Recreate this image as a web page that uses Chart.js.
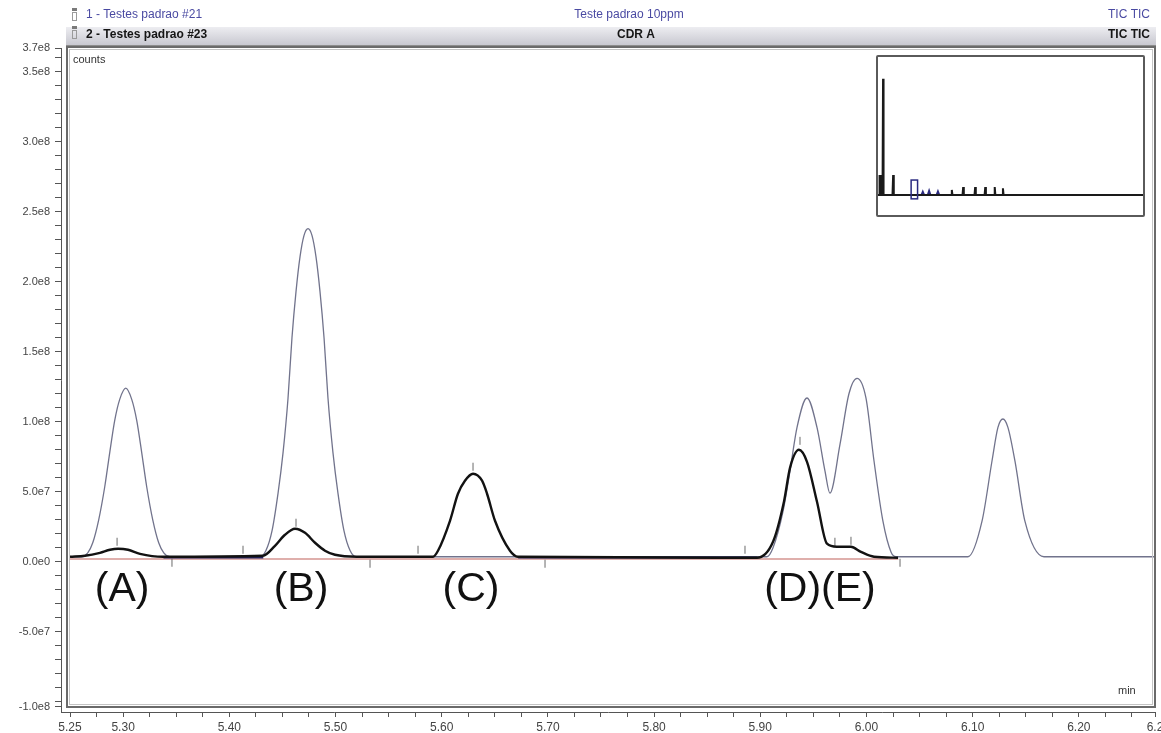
<!DOCTYPE html>
<html>
<head>
<meta charset="utf-8">
<script src="https://cdn.jsdelivr.net/npm/chart.js@4.4.0/dist/chart.umd.min.js"></script>
<style>
  html, body { margin: 0; padding: 0; background: #fff; }
  #wrap { position: relative; width: 1161px; height: 733px; }
  #insetBox { position: absolute; left: 876px; top: 55px; width: 265px; height: 158px;
              border: 2px solid #5a5a5a; border-radius: 2px; background: #fff; }
</style>
</head>
<body>
<div id="wrap">
  <canvas id="chroma" width="1161" height="733"></canvas>
  <div id="insetBox"><canvas id="overview" width="265" height="158"></canvas></div>
</div>
<script>
// chromatogram data (retention time in min, counts)
var greyTimes = [5.250, 5.2610, 5.2667, 5.2714, 5.2770, 5.2827, 5.2874, 5.2921, 5.2968, 5.3025,
  5.3081, 5.3128, 5.3175, 5.3222, 5.3279, 5.3335, 5.3383, 5.3439,
  5.4289, 5.4345, 5.4402, 5.4459, 5.4506, 5.4553, 5.4590, 5.4628, 5.4666, 5.4703, 5.4741,
  5.4779, 5.4816, 5.4854, 5.4892, 5.4929, 5.4976, 5.5023, 5.5080, 5.5137, 5.5193,
  5.9063, 5.9120, 5.9214, 5.9280, 5.9346, 5.9440, 5.9534, 5.9609, 5.9656, 5.9751, 5.9835, 5.9911,
  5.9995, 6.0071, 6.0155, 6.0231, 6.0278,
  6.0956, 6.1088, 6.1182, 6.1238, 6.1285, 6.1332, 6.1398, 6.1492, 6.1671, 6.2717];
var greyCounts = [3.6e6, 3.6e6, 6.4e6, 1.36e7, 3.0e7, 5.36e7, 7.8e7, 1.01e8, 1.16e8, 1.24e8,
  1.16e8, 1.01e8, 7.8e7, 5.36e7, 3.0e7, 1.36e7, 6.4e6, 3.6e6,
  3.6e6, 8.0e6, 2.2e7, 4.9e7, 7.8e7, 1.17e8, 1.6e8, 1.93e8, 2.18e8, 2.33e8, 2.38e8,
  2.33e8, 2.18e8, 1.93e8, 1.6e8, 1.17e8, 7.8e7, 4.9e7, 2.2e7, 8.0e6, 3.6e6,
  3.6e6, 1.0e7, 3.6e7, 6.5e7, 9.6e7, 1.17e8, 9.6e7, 6.5e7, 4.9e7, 8.4e7, 1.2e8, 1.31e8,
  1.17e8, 7.2e7, 2.9e7, 7.0e6, 3.6e6,
  3.6e6, 2.9e7, 7.2e7, 9.6e7, 1.02e8, 9.6e7, 7.2e7, 2.9e7, 3.6e6, 3.6e6];

var blackTimes = [5.250, 5.2641, 5.2782, 5.2877, 5.2952, 5.3046, 5.3159, 5.3376,
  5.4317, 5.4430, 5.4524, 5.4619, 5.4713, 5.4807, 5.4901, 5.4995, 5.5202,
  5.5918, 5.5965, 5.6078, 5.6153, 5.6219, 5.6295, 5.6380, 5.6427, 5.6502, 5.6643, 5.6718,
  5.8969, 5.9120, 5.9223, 5.9280, 5.9364, 5.9440, 5.9534, 5.9628, 5.9722, 5.9854, 5.9948, 6.0071, 6.0297];
var blackCounts = [3.6e6, 4.3e6, 6.4e6, 8.6e6, 9.3e6, 8.6e6, 5.7e6, 3.6e6,
  4.3e6, 1.14e7, 1.93e7, 2.36e7, 2.07e7, 1.36e7, 7.9e6, 5.0e6, 3.6e6,
  3.6e6, 7.9e6, 2.93e7, 4.86e7, 5.79e7, 6.29e7, 5.79e7, 4.86e7, 2.93e7, 7.9e6, 3.6e6,
  2.9e6, 1.43e7, 4.29e7, 6.71e7, 8.0e7, 7.14e7, 4.29e7, 1.29e7, 1.07e7, 1.07e7, 7.1e6, 3.6e6, 2.9e6];

var navyTimes = [5.338, 5.432, 5.55, 5.672, 5.897];
var navyCounts = [3.0e6, 3.0e6, null, 3.0e6, 3.0e6];

var pinkTimes = [5.25, 6.03];
var pinkCounts = [2.0e6, 2.0e6];

var markerTimes = [5.2943, 5.4628, 5.6295, 5.9374, 5.346, 5.4129, 5.5325, 5.5777, 5.6973, 5.8856, 5.9703, 5.9854, 6.0316];
var markerCounts = [1.43e7, 2.79e7, 6.79e7, 8.64e7, -7e5, 8.6e6, -1.4e6, 8.6e6, -1.4e6, 8.6e6, 1.43e7, 1.5e7, -7e5];

var peakNames = ['(A)', '(B)', '(C)', '(D)(E)'];
var peakLabelTimes = [5.299, 5.4675, 5.6276, 5.9562];
var peakLabelCounts = [-2.0e7, -2.0e7, -2.0e7, -2.0e7];

// axis ticks
var xLabelTicks = [5.25, 5.30, 5.40, 5.50, 5.60, 5.70, 5.80, 5.90, 6.00, 6.10, 6.20, 6.2717];
var xLabelText = ['5.25', '5.30', '5.40', '5.50', '5.60', '5.70', '5.80', '5.90', '6.00', '6.10', '6.20', '6.2'];
var yLabelTicks = [-1.036e8, -5e7, 0, 5e7, 1e8, 1.5e8, 2e8, 2.5e8, 3e8, 3.5e8, 3.67e8];
var yLabelText = ['-1.0e8', '-5.0e7', '0.0e0', '5.0e7', '1.0e8', '1.5e8', '2.0e8', '2.5e8', '3.0e8', '3.5e8', '3.7e8'];

// overview (inset) data, whole run
var insetTimes = [0, 0.17, 0.25, 0.33, 0.40, 0.48, 0.56, 0.72, 0.80, 0.88, 2.30, 2.40, 2.50,
  11.6, 11.7, 11.8, 13.4, 13.5, 13.6, 15.3, 15.4, 15.5, 16.9, 17.0, 17.1, 18.4, 18.5, 18.6, 19.7, 19.8, 19.9, 42];
var insetCounts = [0, 0, 6.0e7, 0, 0, 6.0e7, 0, 0, 3.52e8, 0, 0, 6.0e7, 0,
  0, 1.5e7, 0, 0, 2.4e7, 0, 0, 2.4e7, 0, 0, 2.4e7, 0, 0, 2.4e7, 0, 0, 2.0e7, 0, 0];
var insetBlueTimes = [6.9, 7.1, 7.3, 7.9, 8.1, 8.3, 9.3, 9.5, 9.7];
var insetBlueCounts = [0, 9e6, 0, 0, 1.2e7, 0, 0, 1.0e7, 0];

function pts(xs, ys) {
  return xs.map(function (x, i) { return { x: x, y: ys[i] }; });
}

function buildTicks(labels, from, to, step) {
  var list = labels.slice();
  var n = Math.round((to - from) / step);
  for (var i = 0; i <= n; i++) {
    var v = from + i * step;
    var dup = list.some(function (t) { return Math.abs(t - v) < step / 10; });
    if (!dup) list.push(v);
  }
  return list.sort(function (a, b) { return a - b; });
}

function labelFor(v, ticks, text, tol) {
  for (var i = 0; i < ticks.length; i++) {
    if (Math.abs(ticks[i] - v) < tol) return text[i];
  }
  return '';
}

var xTicks = buildTicks(xLabelTicks, 5.25, 6.25, 0.025);
var yTicks = buildTicks(yLabelTicks, -1e8, 3.6e8, 1e7);

var axisFont = { family: '"Liberation Sans Narrow", "Liberation Sans", Arial, sans-serif', size: 12 };

var decor = {
  id: 'decor',
  beforeDraw: function (chart) {
    var ctx = chart.ctx;
    ctx.save();
    ctx.fillStyle = '#fff';
    ctx.fillRect(0, 0, chart.width, chart.height);
    // header band for second trace
    var g = ctx.createLinearGradient(0, 27, 0, 45);
    g.addColorStop(0, '#ededf1');
    g.addColorStop(1, '#c8c8d0');
    ctx.fillStyle = g;
    ctx.fillRect(66, 27, 1090, 18);
    ctx.fillStyle = '#8c8c8c';
    ctx.fillRect(66, 45, 1090, 3);
    // little trace icons
    ctx.fillStyle = '#7a7a7a';
    ctx.fillRect(72, 8, 5, 3);
    ctx.fillRect(72, 26, 5, 3);
    ctx.strokeStyle = '#9a9a9a';
    ctx.lineWidth = 1;
    ctx.strokeRect(72.5, 12.5, 4, 8);
    ctx.strokeRect(72.5, 30.5, 4, 8);

    ctx.textBaseline = 'middle';
    ctx.font = '12px "Liberation Sans", Arial, sans-serif';
    ctx.fillStyle = '#4a4aa2';
    ctx.textAlign = 'left';
    ctx.fillText('1 - Testes padrao #21', 86, 15);
    ctx.textAlign = 'center';
    ctx.fillText('Teste padrao 10ppm', 629, 15);
    ctx.textAlign = 'right';
    ctx.fillText('TIC TIC', 1150, 15);

    ctx.font = 'bold 12px "Liberation Sans", Arial, sans-serif';
    ctx.fillStyle = '#151515';
    ctx.textAlign = 'left';
    ctx.fillText('2 - Testes padrao #23', 86, 35);
    ctx.textAlign = 'center';
    ctx.fillText('CDR A', 636, 35);
    ctx.textAlign = 'right';
    ctx.fillText('TIC TIC', 1150, 35);
    ctx.restore();
  },
  afterDraw: function (chart) {
    var ctx = chart.ctx;
    var xs = chart.scales.x, ys = chart.scales.y;
    ctx.save();
    // plot frame
    ctx.strokeStyle = '#6a6a6a';
    ctx.lineWidth = 2;
    ctx.strokeRect(67, 47, 1088, 660);
    ctx.strokeStyle = '#c4c4c4';
    ctx.lineWidth = 1;
    ctx.strokeRect(69.5, 49.5, 1083, 655);

    ctx.fillStyle = '#333';
    ctx.font = '11px "Liberation Sans", Arial, sans-serif';
    ctx.textBaseline = 'middle';
    ctx.textAlign = 'left';
    ctx.fillText('counts', 73, 60);
    ctx.fillText('min', 1118, 691);

    // peak labels
    ctx.fillStyle = '#111';
    ctx.font = '41px "Liberation Sans", Arial, sans-serif';
    ctx.textAlign = 'center';
    for (var i = 0; i < peakNames.length; i++) {
      ctx.fillText(peakNames[i], xs.getPixelForValue(peakLabelTimes[i]), ys.getPixelForValue(peakLabelCounts[i]));
    }
    ctx.restore();
  }
};

new Chart(document.getElementById('chroma'), {
  type: 'line',
  data: {
    datasets: [
      { label: 'CDR A', data: pts(blackTimes, blackCounts), borderColor: '#121212', borderWidth: 2.4, order: 0 },
      { label: 'baseline', data: pts(navyTimes, navyCounts), borderColor: '#23235e', borderWidth: 2, order: 1 },
      { label: 'marks', data: pts(markerTimes, markerCounts), showLine: false, pointStyle: 'line', rotation: 90,
        pointRadius: 4, borderColor: '#6a6a6a', borderWidth: 1, order: 2 },
      { label: 'Teste padrao 10ppm', data: pts(greyTimes, greyCounts), borderColor: '#71738c', borderWidth: 1.3, order: 3 },
      { label: 'integration', data: pts(pinkTimes, pinkCounts), borderColor: '#d49490', borderWidth: 1.5, order: 4 }
    ]
  },
  options: {
    responsive: false,
    animation: false,
    layout: { padding: { top: 48, right: 6, left: 0, bottom: 0 } },
    elements: {
      point: { radius: 0 },
      line: { cubicInterpolationMode: 'monotone', tension: 0.4 }
    },
    plugins: { legend: { display: false }, tooltip: { enabled: false } },
    scales: {
      x: {
        type: 'linear',
        min: 5.2415,
        max: 6.2717,
        afterBuildTicks: function (s) { s.ticks = xTicks.map(function (v) { return { value: v }; }); },
        afterFit: function (s) { s.height = 21; s.paddingLeft = 0; s.paddingRight = 0; },
        ticks: {
          autoSkip: false, maxRotation: 0, minRotation: 0, padding: 3, color: '#444', font: axisFont,
          callback: function (v) { return labelFor(v, xLabelTicks, xLabelText, 0.005); }
        },
        grid: { drawOnChartArea: false, tickLength: 5, tickColor: '#555' },
        border: { color: '#555', width: 1 }
      },
      y: {
        type: 'linear',
        min: -1.073e8,
        max: 3.67e8,
        afterBuildTicks: function (s) { s.ticks = yTicks.map(function (v) { return { value: v }; }); },
        afterFit: function (s) { s.width = 61; s.paddingTop = 0; s.paddingBottom = 0; },
        ticks: {
          autoSkip: false, padding: 5, color: '#444',
          font: { family: '"Liberation Sans", Arial, sans-serif', size: 11 },
          callback: function (v) { return labelFor(v, yLabelTicks, yLabelText, 2e6); }
        },
        grid: { drawOnChartArea: false, tickLength: 6, tickColor: '#555' },
        border: { color: '#555', width: 1 }
      }
    }
  },
  plugins: [decor]
});

// overview of the whole run with the zoomed window marked
var zoomBox = {
  id: 'zoomBox',
  afterDatasetsDraw: function (chart) {
    var ctx = chart.ctx, xs = chart.scales.x, ys = chart.scales.y;
    var x0 = xs.getPixelForValue(blackTimes[0]);
    var x1 = xs.getPixelForValue(greyTimes[greyTimes.length - 1]);
    var y0 = ys.getPixelForValue(4.5e7);
    var y1 = ys.getPixelForValue(-1.2e7);
    ctx.save();
    ctx.strokeStyle = '#2a2a80';
    ctx.lineWidth = 1.5;
    ctx.strokeRect(x0, y0, x1 - x0, y1 - y0);
    ctx.restore();
  }
};

new Chart(document.getElementById('overview'), {
  type: 'line',
  data: {
    datasets: [
      { data: pts(insetTimes, insetCounts), borderColor: '#1a1a1a', borderWidth: 2 },
      { data: pts(insetBlueTimes, insetBlueCounts), borderColor: '#2a2a80', borderWidth: 2 }
    ]
  },
  options: {
    responsive: false,
    animation: false,
    layout: { padding: 0 },
    elements: { point: { radius: 0 }, line: { tension: 0 } },
    plugins: { legend: { display: false }, tooltip: { enabled: false } },
    scales: {
      x: { type: 'linear', min: 0, max: 42, display: false },
      y: { type: 'linear', min: -6.1e7, max: 4.18e8, display: false }
    }
  },
  plugins: [zoomBox]
});
</script>
</body>
</html>
